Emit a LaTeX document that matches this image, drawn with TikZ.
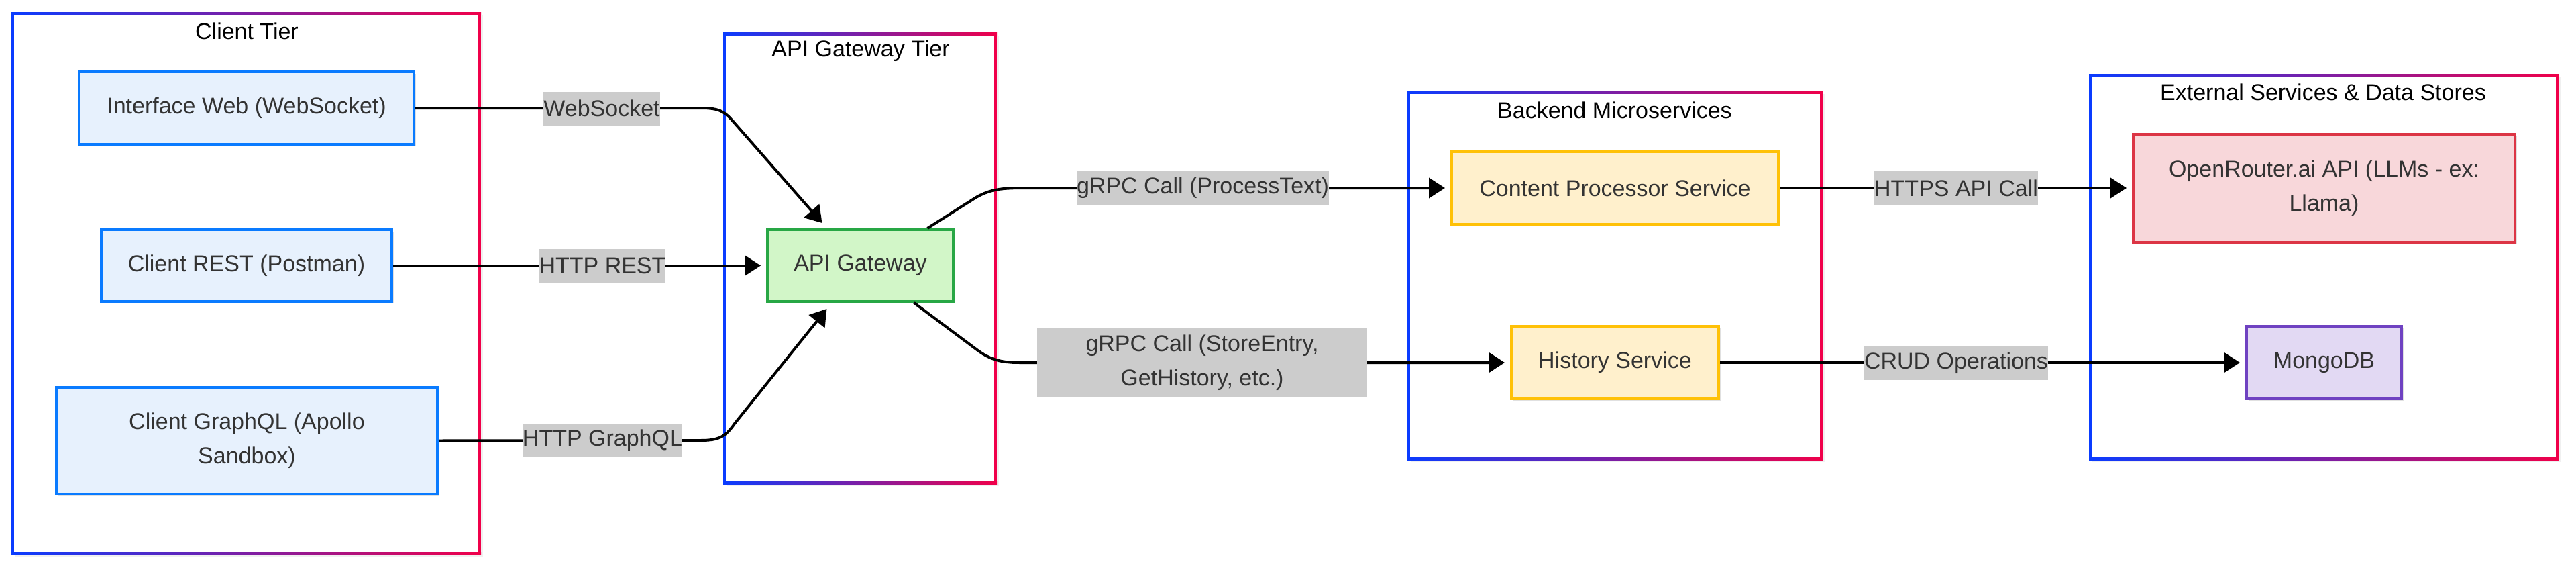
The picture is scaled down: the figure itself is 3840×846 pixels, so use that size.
\documentclass[tikz,border=0pt]{standalone}
\usepackage{fontspec}
\setmainfont{Liberation Sans}
\usetikzlibrary{arrows.meta,calc,shadows}
\definecolor{cblue}{RGB}{10,60,255}
\definecolor{cred}{RGB}{240,0,74}
\definecolor{txt}{HTML}{333333}
\definecolor{bstroke}{HTML}{0A7BFF}
\definecolor{bfill}{HTML}{E7F1FD}
\definecolor{gstroke}{HTML}{28A745}
\definecolor{gfill}{HTML}{D2F6C8}
\definecolor{ystroke}{HTML}{FFC107}
\definecolor{yfill}{HTML}{FFF0CC}
\definecolor{rstroke}{HTML}{DC3545}
\definecolor{rfill}{HTML}{F8D7DA}
\definecolor{pstroke}{HTML}{6F42C1}
\definecolor{pfill}{HTML}{E2D9F3}
\definecolor{lblbg}{HTML}{CCCCCC}
\newcommand{\clusterframe}[4]{%
  \fill[black,opacity=0.06] ({#1+3},{#2+3}) rectangle ({#3+5},{#4+5});
  \fill[white] (#1,#2) rectangle (#3,#4);
  \shade[left color=cblue,right color=cred] ({#1-2},{#2-2}) rectangle ({#3+2},{#2+2});
  \shade[left color=cblue,right color=cred] ({#1-2},{#4-2}) rectangle ({#3+2},{#4+2});
  \fill[cblue] ({#1-2},{#2-2}) rectangle ({#1+2},{#4+2});
  \fill[cred] ({#3-2},{#2-2}) rectangle ({#3+2},{#4+2});
}
\tikzset{
  svc/.style={draw, line width=2pt, text=txt, inner sep=0pt, align=center,
    drop shadow={shadow xshift=1.5pt, shadow yshift=-1.5pt, opacity=0.12, fill=black}},
  bnode/.style={svc, draw=bstroke, fill=bfill},
  gnode/.style={svc, draw=gstroke, fill=gfill},
  ynode/.style={svc, draw=ystroke, fill=yfill},
  rnode/.style={svc, draw=rstroke, fill=rfill},
  pnode/.style={svc, draw=pstroke, fill=pfill},
  ctitle/.style={text=black, inner sep=0pt},
  lbl/.style={fill=lblbg, text=txt, inner xsep=0pt, inner ysep=0pt, minimum height=25pt, align=center},
  edge/.style={draw=black, line width=2pt, line join=round, -{Triangle[length=12pt,width=15pt]}},
}
\begin{document}
\begin{tikzpicture}[x=0.5pt,y=-0.5pt,font=\fontsize{17}{25.5}\selectfont]
\useasboundingbox (0,0) rectangle (3840,846);

% clusters
\clusterframe{19}{20}{715}{824}
\clusterframe{1080}{50}{1484}{719}
\clusterframe{2100}{137}{2715}{683}
\clusterframe{3116}{112}{3812}{683}
\node[ctitle] (tclient) at (368,46) {Client Tier};
\node[ctitle] (tgw) at (1283,76) {API Gateway Tier};
\node[ctitle] (tback) at (2407,164) {Backend Microservices};
\node[ctitle] (text) at (3463,137) {External Services \& Data Stores};

% nodes
\node[bnode, minimum width=249.5pt, minimum height=54pt] (web) at (367.5,161) {Interface Web (WebSocket)};
\node[bnode, minimum width=216.5pt, minimum height=53.5pt] (rest) at (367.5,395.5) {Client REST (Postman)};
\node[bnode, minimum width=284pt, minimum height=79.5pt] (gql) at (368,656.5) {Client GraphQL (Apollo\\Sandbox)};
\node[gnode, minimum width=138.5pt, minimum height=53.5pt] (gw) at (1282.5,395.5) {API Gateway};
\node[ynode, minimum width=243.5pt, minimum height=54pt] (cps) at (2407.5,280) {Content Processor Service};
\node[ynode, minimum width=154.5pt, minimum height=54pt] (hist) at (2407.5,540) {History Service};
\node[rnode, minimum width=284.5pt, minimum height=80.5pt] (or) at (3464.5,280) {OpenRouter.ai API (LLMs - ex:\\Llama)};
\node[pnode, minimum width=115.5pt, minimum height=54pt] (mongo) at (3464.5,540) {MongoDB};

% edges
\draw[edge] (web.east) -- (1045,161) .. controls (1072,161) and (1080,166) .. (1093,181) -- ($(gw.north)+(-57,-8)$);
\draw[edge, shorten >=4pt] (rest.east) -- (gw.west);
\draw[edge] (gql.east) -- (1045,656) .. controls (1072,656) and (1082,650) .. (1095,631) -- ($(gw.south)+(-50,9)$);
\draw[edge, shorten >=4pt] ($(gw.north)+(100,0)$) -- (1455,294) .. controls (1478,281) and (1495,280) .. (1530,280) -- (cps.west);
\draw[edge, shorten >=4pt] ($(gw.south)+(80,0)$) -- (1455,520) .. controls (1476,536) and (1492,540) .. (1520,540) -- (hist.west);
\draw[edge, shorten >=4pt] (cps.east) -- (or.west);
\draw[edge, shorten >=4pt] (hist.east) -- (mongo.west);

% labels
\node[lbl] (lws) at (897,161.5) {WebSocket};
\node[lbl] (lrest) at (898,396) {HTTP REST};
\node[lbl] (lgql) at (898,656) {HTTP GraphQL};
\node[lbl] (lproc) at (1793,280) {gRPC Call (ProcessText)};
\node[lbl, minimum width=246pt, minimum height=51pt] (lstore) at (1792,540) {gRPC Call (StoreEntry,\\GetHistory, etc.)};
\node[lbl] (lhttps) at (2916,280) {HTTPS API Call};
\node[lbl] (lcrud) at (2916,540.5) {CRUD Operations};
\end{tikzpicture}
\end{document}
